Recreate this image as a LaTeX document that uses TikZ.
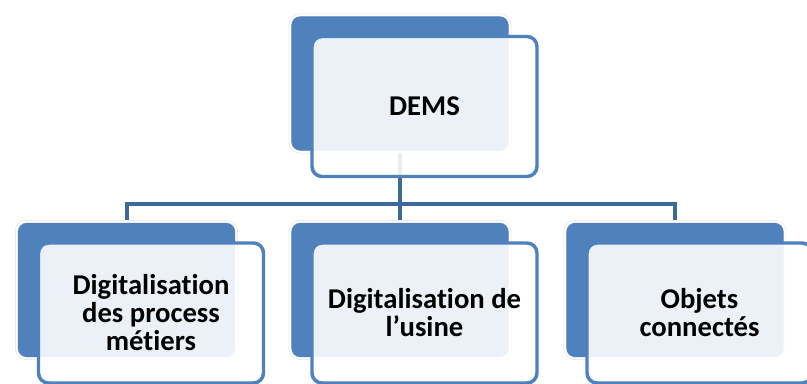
\documentclass[tikz,border=0pt]{standalone}
\usepackage{fontspec}
\setmainfont{Carlito}[Ligatures=NoCommon]
\usetikzlibrary{backgrounds}
\definecolor{boxblue}{RGB}{79,129,189}
\definecolor{linkblue}{RGB}{62,106,153}

\begin{document}
\begin{tikzpicture}[x=.75pt,y=-.75pt,
 every node/.style={font=\bfseries\fontsize{21.5}{21}\selectfont},
 back/.style={rectangle,rounded corners=7.5pt,fill=boxblue,draw=black!12,double=white,
  double distance=1.3pt,line width=.4pt,minimum width=165pt,minimum height=102.75pt,inner sep=0pt},
 front/.style={rectangle,rounded corners=7.5pt,draw=boxblue,line width=2.6pt,fill=white,
  fill opacity=.89,text opacity=1,minimum width=168.75pt,minimum height=105pt,
  align=center,inner sep=0pt},
 link/.style={draw=linkblue,line width=3pt}]
\useasboundingbox (0,0) rectangle (807,384);
\node[back] (dems-back) at (400,83.5) {};
\node[front] (dems) at (424.5,106.5) {DEMS};
\foreach \n/\x/\t in {proc/126.5/{Digitalisation\\des process\\métiers},
 usine/400/{Digitalisation de\\l’usine},obj/675/{Objets\\connectés}}{
 \node[back] (\n-back) at (\x,290) {};
 \node[front] (\n) at (\x+24.5,313) {\t};}
\begin{scope}[on background layer]
\foreach \n in {proc,usine,obj}
 \draw[link] (dems-back.south) -- ++(0,52) -| (\n-back.north);
\end{scope}
\end{tikzpicture}
\end{document}
